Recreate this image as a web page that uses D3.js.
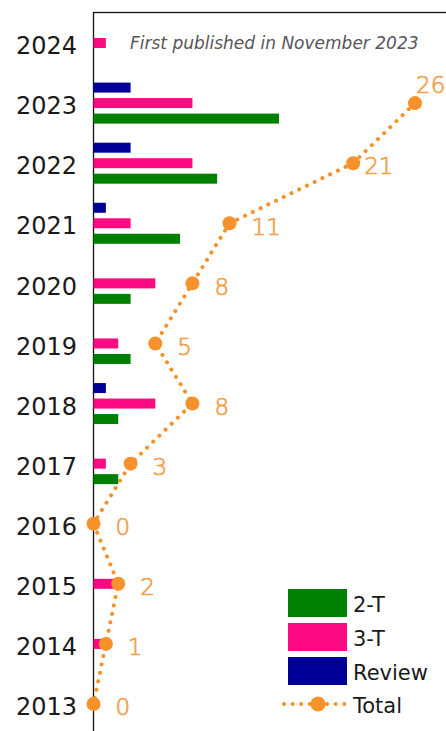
<!DOCTYPE html>
<html>
<head>
<meta charset="utf-8">
<script src="https://cdn.jsdelivr.net/npm/d3@7"></script>
<style>
  body { margin: 0; background: #fff; }
  svg { display: block; }
</style>
</head>
<body>
<svg id="chart" width="446" height="731"></svg>
<script>
  // data
  const years = ["2024", "2023", "2022", "2021", "2020", "2019", "2018", "2017", "2016", "2015", "2014", "2013"];
  const review = [0, 3, 3, 1, 0, 0, 1, 0, 0, 0, 0, 0];
  const threeT = [1, 8, 8, 3, 5, 2, 5, 1, 0, 2, 1, 0];
  const twoT   = [0, 15, 10, 7, 3, 3, 2, 2, 0, 0, 0, 0];
  const totalYears = ["2023", "2022", "2021", "2020", "2019", "2018", "2017", "2016", "2015", "2014", "2013"];
  const totals = [26, 21, 11, 8, 5, 8, 3, 0, 2, 1, 0];

  const series = [
    { name: "2-T", values: twoT, color: "#008000", dy: 15.5 },
    { name: "3-T", values: threeT, color: "#fb0a82", dy: 0 },
    { name: "Review", values: review, color: "#000099", dy: -15.5 }
  ];
  const orange = "#f7922a";
  const labelOrange = "#f0a04c";
  const font = "DejaVu Sans, sans-serif";

  const svg = d3.select("#chart");
  const x = d3.scaleLinear().domain([0, 26]).range([93.5, 415]);
  const y = d3.scalePoint().domain(years).range([43, 704]);
  const barH = 10;

  // frame
  svg.append("rect")
    .attr("x", 93.5).attr("y", 12.5).attr("width", 500).attr("height", 800)
    .attr("fill", "none").attr("stroke", "#111").attr("stroke-width", 1.3);

  // year labels
  svg.append("g").selectAll("text").data(years).join("text")
    .attr("x", 77).attr("y", d => y(d) + 2.5).attr("dy", "0.36em")
    .attr("text-anchor", "end").attr("font-family", font)
    .attr("font-size", 24).attr("fill", "#1a1a1a")
    .text(d => d);

  // bars
  series.forEach(s => {
    svg.append("g").selectAll("rect").data(years).join("rect")
      .attr("x", x(0))
      .attr("y", (d, i) => y(d) + s.dy - barH / 2)
      .attr("width", (d, i) => x(s.values[i]) - x(0))
      .attr("height", barH)
      .attr("fill", s.color);
  });

  // note
  svg.append("text")
    .attr("x", 130).attr("y", 43).attr("dy", "0.36em")
    .attr("font-family", font).attr("font-style", "italic")
    .attr("font-size", 17).attr("fill", "#555")
    .text("First published in November 2023");

  // total line
  const pts = totalYears.map((yr, i) => ({ yr, v: totals[i] }));
  const line = d3.line().x(d => x(d.v)).y(d => y(d.yr));
  svg.append("path")
    .attr("d", line(pts))
    .attr("fill", "none").attr("stroke", orange)
    .attr("stroke-width", 4).attr("stroke-linecap", "round")
    .attr("stroke-dasharray", "0.1,8.5");

  svg.append("g").selectAll("circle").data(pts).join("circle")
    .attr("cx", d => x(d.v)).attr("cy", d => y(d.yr)).attr("r", 7)
    .attr("fill", orange);

  // label offsets: 26 sits above its point, 21 hugs it
  const labelDx = d => d.v === 26 ? 1 : d.v === 21 ? 11 : 22;
  svg.append("g").selectAll("text").data(pts).join("text")
    .attr("x", d => x(d.v) + labelDx(d))
    .attr("y", d => d.v === 26 ? y(d.yr) - 18 : y(d.yr) + 3)
    .attr("dy", "0.36em")
    .attr("font-family", font).attr("font-size", 23).attr("font-weight", 300)
    .attr("fill", labelOrange)
    .attr("stroke", labelOrange).attr("stroke-width", 0.7)
    .text(d => d.v);

  // legend
  const legend = svg.append("g").attr("transform", "translate(288,589)");
  series.forEach((s, i) => {
    legend.append("rect")
      .attr("x", 0).attr("y", i * 34).attr("width", 59).attr("height", 28)
      .attr("fill", s.color);
    legend.append("text")
      .attr("x", 65).attr("y", i * 34 + 15).attr("dy", "0.36em")
      .attr("font-family", font).attr("font-size", 21).attr("fill", "#1a1a1a")
      .text(s.name);
  });
  legend.append("line")
    .attr("x1", -4).attr("x2", 59).attr("y1", 115).attr("y2", 115)
    .attr("stroke", orange).attr("stroke-width", 4)
    .attr("stroke-linecap", "round").attr("stroke-dasharray", "0.1,8.5");
  legend.append("circle").attr("cx", 30).attr("cy", 115).attr("r", 7.5).attr("fill", orange);
  legend.append("text")
    .attr("x", 65).attr("y", 116).attr("dy", "0.36em")
    .attr("font-family", font).attr("font-size", 21).attr("fill", "#1a1a1a")
    .text("Total");
</script>
</body>
</html>
